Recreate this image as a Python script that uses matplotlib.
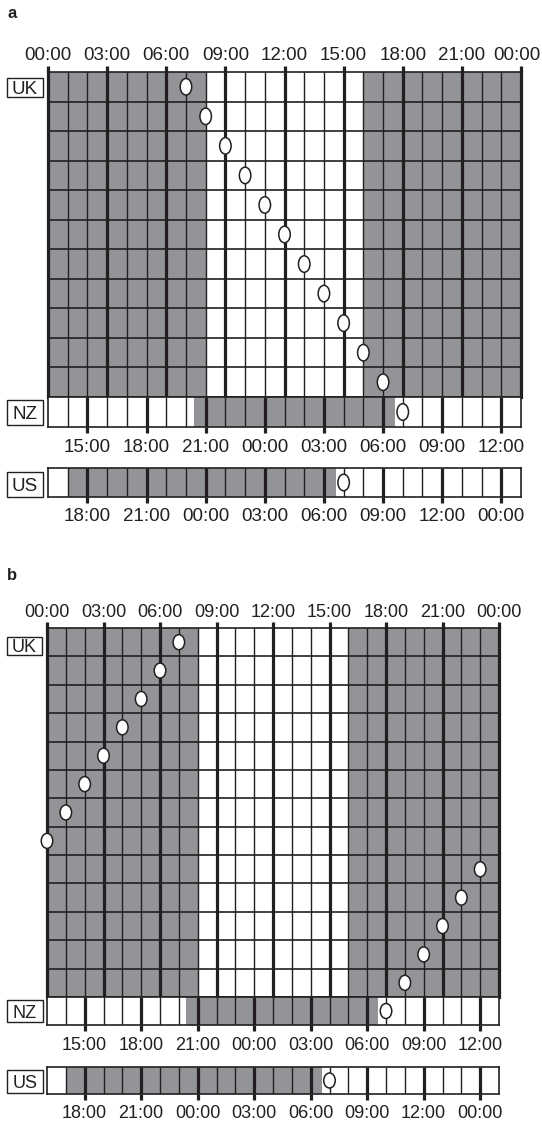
import numpy as np
import matplotlib.pyplot as plt
from matplotlib.patches import Ellipse, Rectangle
from matplotlib.transforms import ScaledTranslation

plt.rcParams['font.family'] = ['Liberation Sans', 'DejaVu Sans']

# ---- data ----
uk_ticks = [0, 3, 6, 9, 12, 15, 18, 21, 24]
uk_labels = ['00:00', '03:00', '06:00', '09:00', '12:00', '15:00', '18:00', '21:00', '00:00']
nz_ticks = [2, 5, 8, 11, 14, 17, 20, 23]
nz_labels = ['15:00', '18:00', '21:00', '00:00', '03:00', '06:00', '09:00', '12:00']
us_ticks = [2, 5, 8, 11, 14, 17, 20, 23]
us_labels = ['18:00', '21:00', '00:00', '03:00', '06:00', '09:00', '12:00', '00:00']

uk_night = [(0, 8), (16, 24)]
nz_night = [(7.4, 17.6)]
us_night = [(1.0, 14.6)]

ovals_a = [7, 8, 9, 10, 11, 12, 13, 14, 15, 16, 17]
ovals_b = [7, 6, 5, 4, 3, 2, 1, 0, 23, 22, 21, 20, 19]
nz_oval = 18
us_oval = 15

GREY = '#929497'
INK = '#231f20'
W, H = 542, 1122

fig = plt.figure(figsize=(W / 100, H / 100), dpi=100)


def strip(box, nrows, night, major, labels, top, fs, pad, edge_lw, ovals, oval_px):
    x0, y0, x1, y1 = box
    ax = fig.add_axes([x0 / W, 1 - y1 / H, (x1 - x0) / W, (y1 - y0) / H])
    ax.set_xlim(0, 24)
    ax.set_ylim(nrows, 0)
    for a, b in night:
        ax.axvspan(a, b, color=GREY, lw=0, zorder=0)
    minor = [h for h in range(1, 24) if h not in major]
    ax.vlines(minor, 0, nrows, color=INK, lw=1.0, zorder=2)
    ax.vlines([m for m in major if 0 < m < 24], 0, nrows, color=INK, lw=2.3, zorder=3)
    if nrows > 1:
        ax.hlines(range(1, nrows), 0, 24, color=INK, lw=1.2, zorder=2)
    ax.set_xticks(major, labels)
    ax.set_yticks([])
    if top:
        ax.xaxis.tick_top()
    ax.tick_params(axis='x', direction='out', length=4, width=2.3, color=INK,
                   pad=pad, labelsize=fs, labelcolor=INK)
    for s in ax.spines.values():
        s.set_color(INK)
        s.set_linewidth(1.2)
    ax.spines['left'].set_linewidth(edge_lw)
    ax.spines['right'].set_linewidth(edge_lw)
    # oval sizes in data units
    ow = oval_px[0] / ((x1 - x0) / 24)
    oh = oval_px[1] / ((y1 - y0) / nrows)
    for r, h in enumerate(ovals):
        ax.add_patch(Ellipse((h, r + 0.5), ow, oh, fc='white', ec=INK, lw=1.1,
                             zorder=6, clip_on=False))
    return ax


def name_box(text, x0, y0, x1, y1, fs):
    fig.add_artist(Rectangle((x0 / W, 1 - y1 / H), (x1 - x0) / W, (y1 - y0) / H,
                             transform=fig.transFigure, fc='white', ec=INK, lw=1.0))
    fig.text((x0 + x1) / 2 / W, 1 - (y0 + y1) / 2 / H, text, ha='center',
             va='center_baseline', fontsize=fs, color=INK)


# ---- panel a ----
fig.text(7 / W, 1 - 14 / H, 'a', weight='bold', fontsize=12, va='center', color=INK)
ax_uk = strip((48, 72, 521, 397), 11, uk_night, uk_ticks, uk_labels, True, 13.5, 1.5, 2.3, ovals_a, (11.5, 16.5))
strip((48, 397, 521, 427), 1, nz_night, nz_ticks, nz_labels, False, 13.5, 4.5, 1.2, [nz_oval], (11.5, 16.5))
strip((48, 468, 521, 497), 1, us_night, us_ticks, us_labels, False, 13.5, 4.0, 1.2, [us_oval], (11.5, 16.5))
name_box('UK', 7, 78, 43, 97, 13.5)
name_box('NZ', 7, 400, 43, 425, 13.5)
name_box('US', 7, 472, 43, 497, 13.5)

# last top label sits against the right edge
last = ax_uk.get_xticklabels()[-1]
last.set_transform(last.get_transform() + ScaledTranslation(-0.045, 0, fig.dpi_scale_trans))

# ---- panel b ----
fig.text(7 / W, 1 - 575 / H, 'b', weight='bold', fontsize=12, va='center', color=INK)
strip((47, 628, 499, 997), 13, uk_night, uk_ticks, uk_labels, True, 13, 1.0, 2.3, ovals_b, (11.5, 15))
strip((47, 997, 499, 1025), 1, nz_night, nz_ticks, nz_labels, False, 13, 4.5, 1.2, [nz_oval], (11.5, 15))
strip((47, 1067, 499, 1094), 1, us_night, us_ticks, us_labels, False, 13, 4.0, 1.2, [us_oval], (11.5, 15))
name_box('UK', 7, 637, 42, 655, 13)
name_box('NZ', 7, 1000, 43, 1022, 13)
name_box('US', 7, 1070, 43, 1093, 13)

fig.savefig('out.png', dpi=100)
